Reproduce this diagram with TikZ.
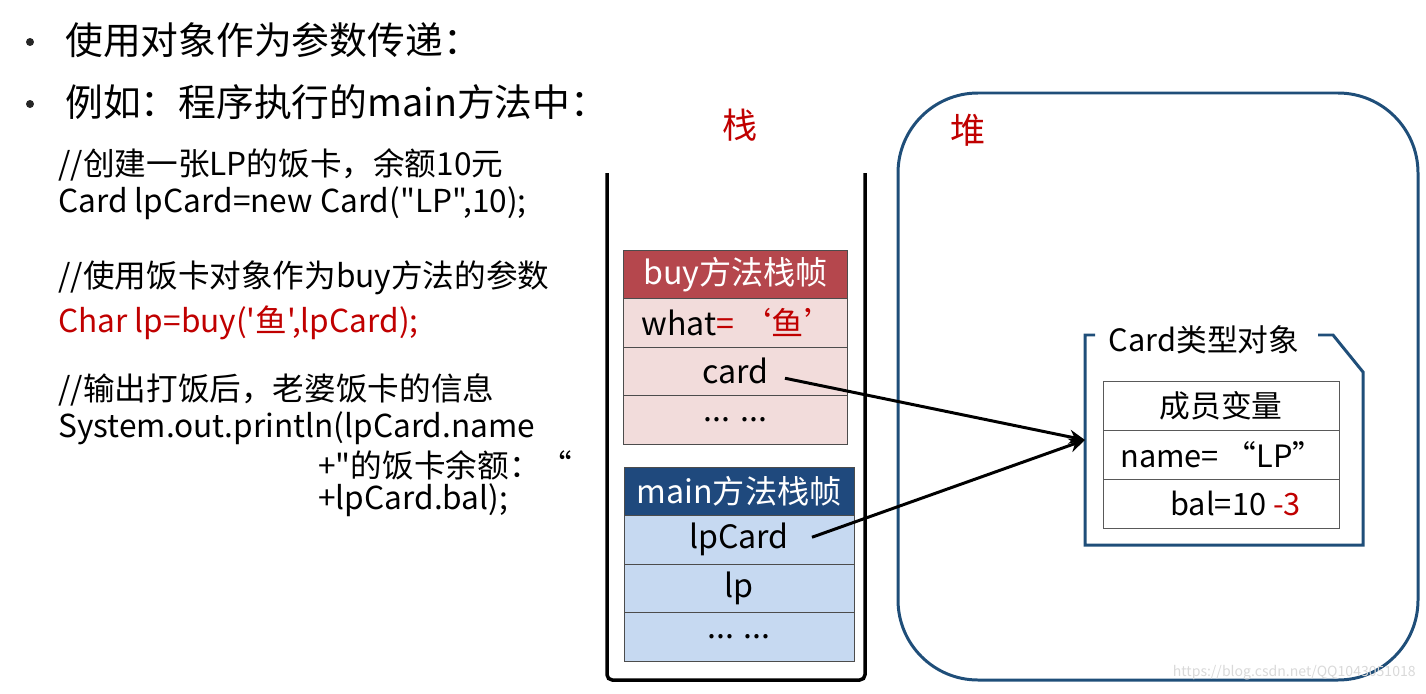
\documentclass[tikz,border=0pt]{standalone}
\usepackage{fontspec}
\newfontfamily\yahei{Noto Sans CJK SC}
\usetikzlibrary{arrows.meta, positioning}
\definecolor{tipred}{HTML}{C00000}
\definecolor{buyhead}{HTML}{B5474D}
\definecolor{buyfill}{HTML}{F2DCDB}
\definecolor{mainhead}{HTML}{1F497D}
\definecolor{mainfill}{HTML}{C6D9F1}
\definecolor{heapline}{HTML}{1F4E79}
\begin{document}
\yahei
\begin{tikzpicture}[
    x=0.02cm, y=-0.02cm,
    point/.style={font=\fontsize{21.5}{24}\selectfont, anchor=west, inner sep=0},
    dot/.style={circle, fill=black!85, minimum size=0.16cm, inner sep=0},
    code/.style={font=\fontsize{18}{20}\selectfont, anchor=west, inner sep=0},
    area/.style={font=\fontsize{20}{24}\selectfont, text=tipred, inner sep=0},
    framehead/.style={draw=gray!60!black, minimum height=0.97cm, inner sep=0, outer sep=0, text=white, font=\fontsize{18.3}{20}\selectfont},
    framerow/.style={draw=gray!60!black, minimum height=0.97cm, inner sep=0, outer sep=0, font=\fontsize{18.3}{20}\selectfont},
    objrow/.style={draw=gray!70!black, fill=white, minimum width=4.72cm, minimum height=0.98cm, inner sep=0, outer sep=0, font=\fontsize{17.5}{20}\selectfont},
    ref/.style={-{Stealth[length=9pt, width=8pt]}, line width=1.7pt}
]
\useasboundingbox (0,0) rectangle (1426,693);

% bullets
\node[dot] (dot1) at (30,42) {};
\node[dot] (dot2) at (30,104) {};
\node[point] (pt1) at (65,40) {使用对象作为参数传递：};
\node[point] (pt2) at (65,102) {例如：程序执行的main方法中：};

% code
\node[code] (c1) at (58,165) {//创建一张LP的饭卡，余额10元};
\node[code] (c2) at (58,203) {Card lpCard=new Card("LP",10);};
\node[code] (c3) at (58,278) {//使用饭卡对象作为buy方法的参数};
\node[code, text=tipred] (c4) at (58,323) {Char lp=buy('鱼',lpCard);};
\node[code] (c5) at (58,390) {//输出打饭后，老婆饭卡的信息};
\node[code] (c6) at (58,428) {System.out.println(lpCard.name};
\node[code] (c7) at (318,465) {+"的饭卡余额：“};
\node[code] (c8) at (318,500) {+lpCard.bal);};

% stack
\node[area] (stack) at (740,125) {栈};
\draw[line width=2pt, rounded corners=3pt] (607,173) -- (607,680) -- (865,680) -- (865,173);

\node[framehead, fill=buyhead, minimum width=4.48cm] (buyh) at (735.5,274.25) {buy方法栈帧};
\node[framerow, fill=buyfill, minimum width=4.48cm, text width=3.76cm, inner xsep=0.36cm, align=left, below=0pt of buyh] (what) {what\textcolor{tipred}{=\,‘鱼’}};
\node[framerow, fill=buyfill, minimum width=4.48cm, below=0pt of what] (card) {card};
\node[framerow, fill=buyfill, minimum width=4.48cm, below=0pt of card] (buyetc) {... ...};

\node[framehead, fill=mainhead, minimum width=4.6cm] (mainh) at (739,491.25) {main方法栈帧};
\node[framerow, fill=mainfill, minimum width=4.6cm, below=0pt of mainh] (lpcard) {lpCard};
\node[framerow, fill=mainfill, minimum width=4.6cm, below=0pt of lpcard] (lp) {lp};
\node[framerow, fill=mainfill, minimum width=4.6cm, below=0pt of lp] (mainetc) {... ...};

% heap
\draw[heapline, line width=1.7pt, rounded corners=1.6cm] (898,93) rectangle (1418,680);
\node[area] (heap) at (968,130) {堆};

\draw[heapline, line width=1.7pt] (1095,335) -- (1085,335) -- (1085,545) -- (1363,545) -- (1363,372) -- (1333,335) -- (1318,335);
\node[font=\fontsize{17.5}{20}\selectfont, inner sep=0] (objname) at (1204,340) {Card类型对象};
\coordinate (objin) at (1085,440);

\node[objrow] (fields) at (1221,405.5) {成员变量};
\node[objrow, below=0pt of fields] (namerow) {};
\node[objrow, below=0pt of namerow] (balrow) {};
\node[font=\fontsize{17.5}{20}\selectfont, anchor=west, inner sep=0] (nameval) at ([xshift=0.34cm]namerow.west) {name= “LP”};
\node[font=\fontsize{17.5}{20}\selectfont, anchor=west, inner sep=0] (balval) at ([xshift=1.34cm]balrow.west) {bal=10 \textcolor{tipred}{-3}};

% references
\draw[ref] ([xshift=0.99cm, yshift=-0.14cm]card.center) -- (objin);
\draw[ref] ([xshift=1.46cm, yshift=0.05cm]lpcard.center) -- (objin);

\node[font=\fontsize{8}{10}\selectfont, text=gray!30, anchor=east, inner sep=0] (mark) at (1416,673) {https://blog.csdn.net/QQ1043051018};
\end{tikzpicture}
\end{document}
